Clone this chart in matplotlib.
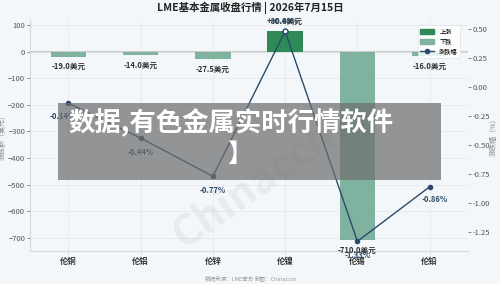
import numpy as np
import matplotlib.pyplot as plt
from matplotlib.patches import Patch
from matplotlib.lines import Line2D

plt.rcParams['font.family'] = ['Noto Sans CJK SC', 'DejaVu Sans']

metals = ['伦铜', '伦铝', '伦锌', '伦镍', '伦锡', '伦铅']
change_usd = [-19.0, -14.0, -27.5, 80.0, -710.0, -16.0]
change_pct = [-0.14, -0.44, -0.77, 0.48, -1.33, -0.86]

up_color = '#2e8b57'
down_color = '#7fb3a0'
line_color = '#2b4a6b'
bg = '#f4f7fa'

fig = plt.figure(figsize=(5, 2.84), dpi=100, facecolor=bg)
ax = fig.add_axes([0.06, 0.116, 0.876, 0.814], facecolor=bg)
x = np.arange(len(metals))

colors = [up_color if v > 0 else down_color for v in change_usd]
ax.bar(x, change_usd, width=0.49, color=colors, zorder=2)
ax.axhline(0, color='#cccccc', lw=1.5, zorder=1)
ax.set_xlim(-0.53, 5.53)
ax.set_ylim(-750, 120)
ax.set_yticks(np.arange(-700, 101, 100))
ax.set_xticks(x)
ax.set_xticklabels(metals, fontsize=6, fontweight='bold', color='#333333')
ax.tick_params(axis='y', labelsize=5.5, colors='#555555', length=2, width=0.5, pad=1.5)
ax.tick_params(axis='x', length=2, width=0.5, colors='#cccccc', labelcolor='#333333', pad=2)
ax.set_ylabel('涨跌额（美元）', fontsize=5, color='#888888')
ax.yaxis.set_label_coords(-0.052, 0.5)
ax.grid(True, color='#e3e8ee', lw=0.5, zorder=0)
for s in ['top', 'right']:
    ax.spines[s].set_visible(False)
for s in ['left', 'bottom']:
    ax.spines[s].set_color('#d5d9de')
    ax.spines[s].set_linewidth(0.8)

for xi, v in zip(x, change_usd):
    txt = f'{v:+.1f}美元'
    if v > 0:
        ax.annotate(txt, (xi, v), xytext=(0, 3), textcoords='offset points',
                    ha='center', va='bottom', fontsize=5.5, fontweight='bold', color='#333333')
    else:
        ax.annotate(txt, (xi, v), xytext=(0, -4), textcoords='offset points',
                    ha='center', va='top', fontsize=5.5, fontweight='bold', color='#333333')

ax2 = ax.twinx()
ax2.plot(x, change_pct, color=line_color, lw=1, marker='o', ms=3,
         markerfacecolor=line_color, zorder=3)
ax2.plot(x[3], change_pct[3], 'o', ms=3.5, markerfacecolor='white',
         markeredgecolor=line_color, mew=1, zorder=4)
ax2.set_ylim(-1.414, 0.578)
ax2.set_yticks([0.5, 0.25, 0.0, -0.25, -0.5, -0.75, -1.0, -1.25])
ax2.set_yticklabels(['0.50', '0.25', '0.00', '-0.25', '-0.50', '-0.75', '-1.00', '-1.25'])
ax2.tick_params(axis='y', labelsize=5.5, colors='#555555', length=2, width=0.5, pad=1.5)
ax2.set_ylabel('涨跌幅（%）', fontsize=5, color='#888888')
ax2.yaxis.set_label_coords(1.05, 0.5)
for s in ax2.spines.values():
    s.set_visible(False)

offsets = [(-4, -6), (0, -7), (0, -7), (0, 4), (0, -7), (4, -6)]
for xi, p, off in zip(x, change_pct, offsets):
    va = 'bottom' if p > 0 else 'top'
    ax2.annotate(f'{p:+.2f}%', (xi, p), xytext=off, textcoords='offset points',
                 ha='center', va=va, fontsize=5.5, fontweight='bold', color=line_color)

handles = [Patch(color=up_color, label='上涨'), Patch(color=down_color, label='下跌'),
           Line2D([0], [0], color=line_color, marker='o', ms=3, lw=1, label='涨跌幅')]
leg = ax2.legend(handles=handles, loc='upper right', fontsize=4.5, frameon=True,
                 handlelength=2.2, borderpad=0.4, labelspacing=0.3, bbox_to_anchor=(0.99, 0.99))
leg.get_frame().set_facecolor('white')
leg.get_frame().set_edgecolor('#dddddd')
leg.get_frame().set_linewidth(0.5)

fig.text(0.5, 0.972, 'LME基本金属收盘行情 | 2026年7月15日', ha='center', va='center',
         fontsize=7.5, fontweight='bold', color='#222222')
fig.text(0.41, 0.02, '数据来源：LME官方', ha='left', va='center', fontsize=4, color='#999999')
fig.text(0.51, 0.02, '制图：Chinaccm', ha='left', va='center', fontsize=4, color='#999999')

# faint watermark
fig.text(0.52, 0.36, 'Chinaccm', ha='center', va='center', fontsize=30, fontweight='bold',
         color='#000000', alpha=0.05, rotation=35)

# overlay banner from page capture
fig.patches.append(plt.Rectangle((58 / 500, 1 - 180 / 284), 383 / 500, 77 / 284,
                                 transform=fig.transFigure, facecolor='#6e6e6e',
                                 alpha=0.72, zorder=10))
fig.text(68 / 500, 1 - 123 / 284, '数据,有色金属实时行情软件', ha='left', va='center',
         fontsize=19, fontweight='bold', color='white', zorder=11)
fig.text(240 / 500, 1 - 155 / 284, '】', ha='center', va='center',
         fontsize=18, fontweight='bold', color='white', zorder=11)

fig.savefig('out.png', dpi=100, facecolor=bg)
